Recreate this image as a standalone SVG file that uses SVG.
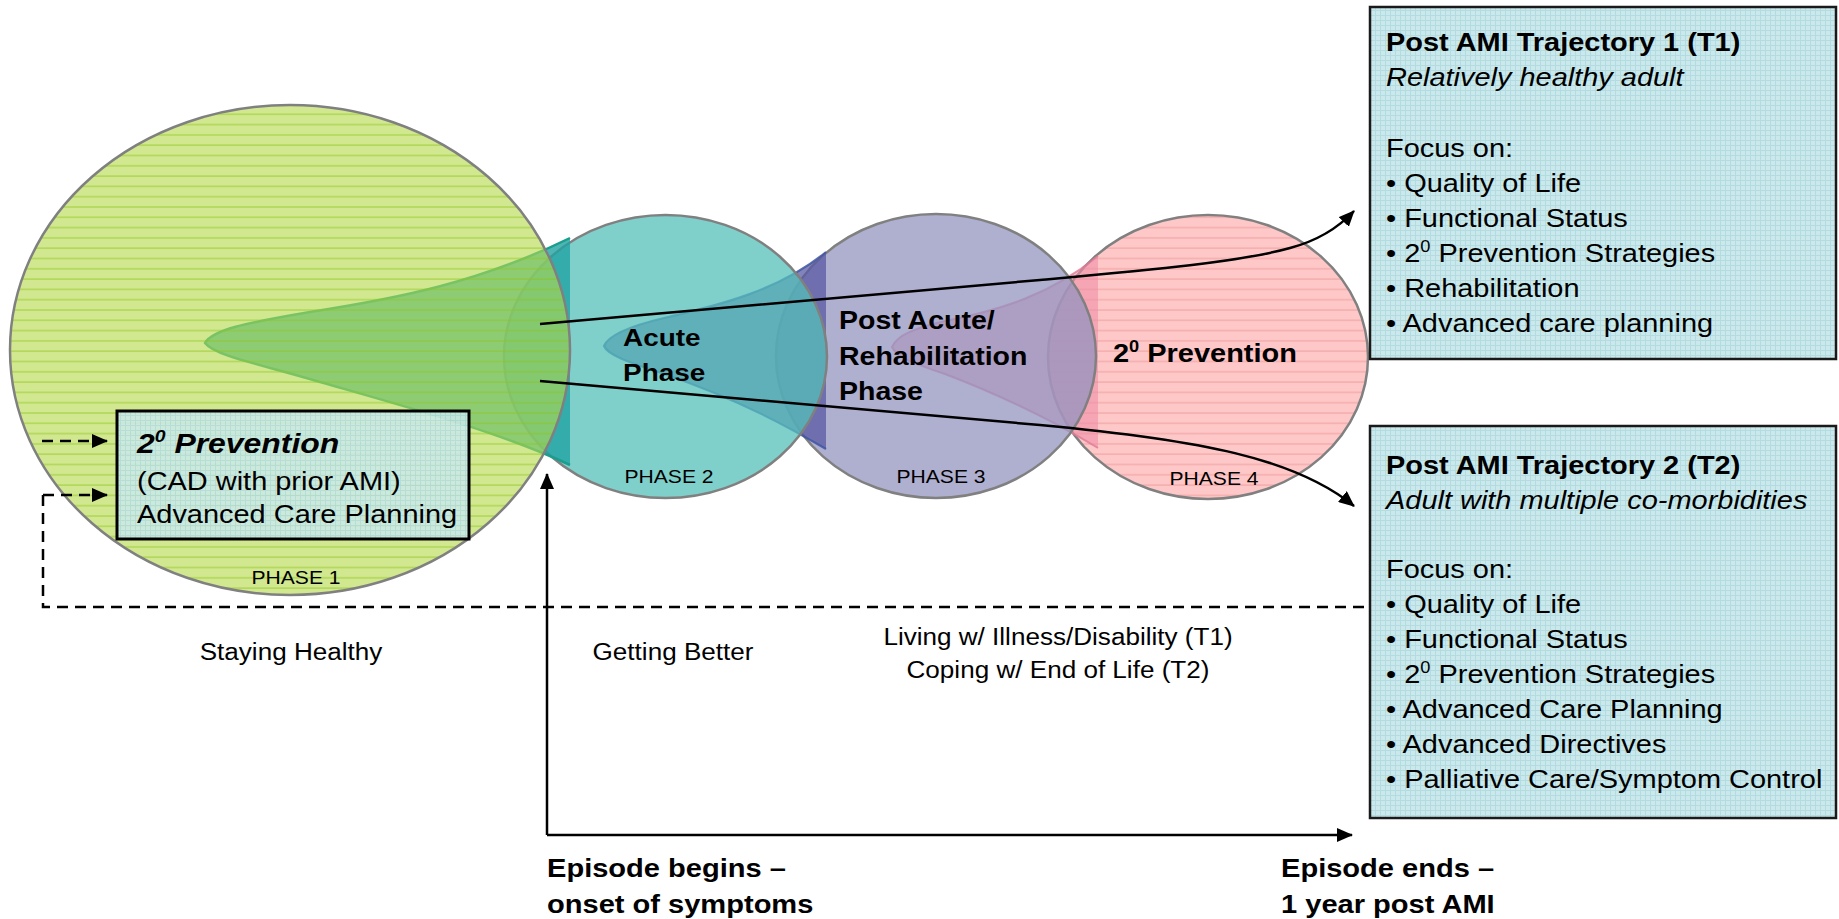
<svg xmlns="http://www.w3.org/2000/svg" width="1839" height="919" viewBox="0 0 1839 919">
<defs>
<style>
.txt{font-family:"Liberation Sans",Arial,Helvetica,sans-serif;fill:#000}
.b{font-weight:bold}
.i{font-style:italic}
.mid{text-anchor:middle}
.phase{stroke:#808080;stroke-width:2.5}
.tbox{fill:url(#grid);stroke:#1a1a1a;stroke-width:2.5}
.conn{fill:none;stroke:#000;stroke-width:2.5}
.dash{fill:none;stroke:#000;stroke-width:2.5;stroke-dasharray:11 7}
</style>
<pattern id="p1" patternUnits="userSpaceOnUse" width="10" height="10.3">
<rect width="10" height="10.3" fill="#b5d94b" fill-opacity="0.62"/>
<line x1="0" y1="1" x2="10" y2="1" stroke="#8cc21c" stroke-opacity="0.55" stroke-width="1.4"/>
</pattern>
<pattern id="p4" patternUnits="userSpaceOnUse" width="10" height="10.3">
<rect width="10" height="10.3" fill="#ffc8c8"/>
<line x1="0" y1="1" x2="10" y2="1" stroke="#f2a6a6" stroke-width="1.2"/>
</pattern>
<pattern id="grid" patternUnits="userSpaceOnUse" width="5" height="5">
<rect width="5" height="5" fill="#cbe9ec"/>
<path d="M0,0.5H5M0.5,0V5" stroke="#b3dce0" stroke-width="1"/>
</pattern>
<marker id="ah" viewBox="0 0 16 14" refX="15" refY="7" markerWidth="16" markerHeight="14" markerUnits="userSpaceOnUse" orient="auto">
<path d="M0,0 L16,7 L0,14 Z" fill="#000"/>
</marker>
</defs>
<rect width="1839" height="919" fill="#fff"/>

<g id="phase4">
<ellipse cx="1208" cy="357" rx="160" ry="142" fill="url(#p4)" class="phase"/>
</g>
<g id="horn4">
<path d="M892,347 C897,335 915,328 945,321 C1000,310 1050,295 1098,256 L1098,448 C1055,422 1000,395 945,374 C915,364 897,358 892,347 Z" fill="#ee8ea6" fill-opacity="0.6"/>
<path d="M1098,256 C1050,295 1000,310 945,321 C915,328 897,335 892,347 C897,358 915,364 945,374 C1000,395 1055,422 1098,448" fill="none" stroke="#e07a96" stroke-opacity="0.8" stroke-width="2"/>
</g>
<g id="phase3">
<ellipse cx="936" cy="356" rx="160" ry="142" fill="#9494c0" fill-opacity="0.75" class="phase"/>
</g>
<g id="horn3">
<path d="M604,346 C608,336 630,326 664,318 C720,305 780,290 826,252 L826,449 C790,428 740,400 664,374 C635,364 608,356 604,346 Z" fill="#5a5aa6" fill-opacity="0.75"/>
<path d="M826,252 C780,290 720,305 664,318 C630,326 608,336 604,346 C608,356 635,364 664,374 C740,400 790,428 826,449" fill="none" stroke="#3e56a0" stroke-opacity="0.85" stroke-width="2.2"/>
</g>
<g id="phase2">
<ellipse cx="665.5" cy="356.5" rx="161.5" ry="141.5" fill="#54bfb9" fill-opacity="0.75" class="phase"/>
</g>
<g id="horn2">
<path d="M205,343 C212,330 245,323 310,312 C400,298 480,282 570,238 L570,465 C500,432 400,405 320,382 C260,364 215,356 205,343 Z" fill="#22a3a3" fill-opacity="0.8"/>
<path d="M570,238 C480,282 400,298 310,312 C245,323 212,330 205,343 C215,356 260,364 320,382 C400,405 500,432 570,465" fill="none" stroke="#1a9e8e" stroke-width="2.5"/>
</g>
<g id="phase1">
<ellipse cx="290" cy="350" rx="280" ry="245" fill="url(#p1)" class="phase"/>
</g>

<g id="phase-labels" class="txt">
<g transform="translate(623 0) scale(1.14 1)" class="b" font-size="24.5">
<text x="0" y="346">Acute</text>
<text x="0" y="381">Phase</text>
</g>
<g transform="translate(839 0) scale(1.14 1)" class="b" font-size="25">
<text x="0" y="329">Post Acute/</text>
<text x="0" y="365">Rehabilitation</text>
<text x="0" y="400">Phase</text>
</g>
<g transform="translate(1113 0) scale(1.14 1)" class="b" font-size="25.4">
<text x="0" y="362">2<tspan font-size="16" dy="-10">0</tspan><tspan dy="10"> Prevention</tspan></text>
</g>
<g font-size="18.5" class="mid">
<text transform="translate(296 584) scale(1.14 1)">PHASE 1</text>
<text transform="translate(669 483) scale(1.14 1)">PHASE 2</text>
<text transform="translate(941 483) scale(1.14 1)">PHASE 3</text>
<text transform="translate(1214 485) scale(1.14 1)">PHASE 4</text>
</g>
</g>

<g id="prevention-box">
<rect x="117" y="411" width="352" height="128" fill="url(#grid)" fill-opacity="0.85" stroke="#000" stroke-width="3"/>
<g transform="translate(137 0) scale(1.14 1)" class="txt" font-size="25.4">
<text x="0" y="453" class="b i" font-size="28">2<tspan font-size="17" dy="-11">0</tspan><tspan dy="11"> Prevention</tspan></text>
<text x="0" y="490">(CAD with prior AMI)</text>
<text x="0" y="523">Advanced Care Planning</text>
</g>
</g>

<g id="connectors">
<path class="conn" d="M540,324 L1040,280 C1150,270 1240,262 1290,248 C1320,240 1340,226 1354,211" marker-end="url(#ah)"/>
<path class="conn" d="M540,381 L1040,425 C1200,440 1295,458 1354,506" marker-end="url(#ah)"/>
<path class="conn" d="M547,835 V474" marker-end="url(#ah)"/>
<path class="conn" d="M547,835 H1352" marker-end="url(#ah)"/>
<path class="dash" d="M42,441 H107" marker-end="url(#ah)"/>
<path class="dash" d="M43,495 H107" marker-end="url(#ah)"/>
<path class="dash" d="M43,495 V607 H1370"/>
</g>

<g id="t1">
<rect x="1370" y="7" width="466" height="352" class="tbox"/>
<g transform="translate(1386 0) scale(1.14 1)" class="txt" font-size="25.4">
<text x="0" y="51" class="b">Post AMI Trajectory 1 (T1)</text>
<text x="0" y="86" class="i">Relatively healthy adult</text>
<text x="0" y="157">Focus on:</text>
<text x="0" y="192">• Quality of Life</text>
<text x="0" y="227">• Functional Status</text>
<text x="0" y="262">• 2<tspan font-size="16" dy="-10">0</tspan><tspan dy="10"> Prevention Strategies</tspan></text>
<text x="0" y="297">• Rehabilitation</text>
<text x="0" y="332">• Advanced care planning</text>
</g>
</g>

<g id="t2">
<rect x="1370" y="426" width="466" height="392" class="tbox"/>
<g transform="translate(1386 0) scale(1.14 1)" class="txt" font-size="25.4">
<text x="0" y="474" class="b">Post AMI Trajectory 2 (T2)</text>
<text x="0" y="509" class="i">Adult with multiple co-morbidities</text>
<text x="0" y="578">Focus on:</text>
<text x="0" y="613">• Quality of Life</text>
<text x="0" y="648">• Functional Status</text>
<text x="0" y="683">• 2<tspan font-size="16" dy="-10">0</tspan><tspan dy="10"> Prevention Strategies</tspan></text>
<text x="0" y="718">• Advanced Care Planning</text>
<text x="0" y="753">• Advanced Directives</text>
<text x="0" y="788">• Palliative Care/Symptom Control</text>
</g>
</g>

<g id="stage-labels" class="txt mid" font-size="23.3">
<text transform="translate(291 660) scale(1.12 1)">Staying Healthy</text>
<text transform="translate(673 660) scale(1.12 1)">Getting Better</text>
<text transform="translate(1058 645) scale(1.12 1)">Living w/ Illness/Disability (T1)</text>
<text transform="translate(1058 678) scale(1.12 1)">Coping w/ End of Life (T2)</text>
</g>

<g id="episode-begins" class="txt b" font-size="25.5">
<g transform="translate(547 0) scale(1.14 1)">
<text x="0" y="877">Episode begins –</text>
<text x="0" y="913">onset of symptoms</text>
</g>
</g>
<g id="episode-ends" class="txt b" font-size="25.5">
<g transform="translate(1281 0) scale(1.14 1)">
<text x="0" y="877">Episode ends –</text>
<text x="0" y="913">1 year post AMI</text>
</g>
</g>
</svg>
